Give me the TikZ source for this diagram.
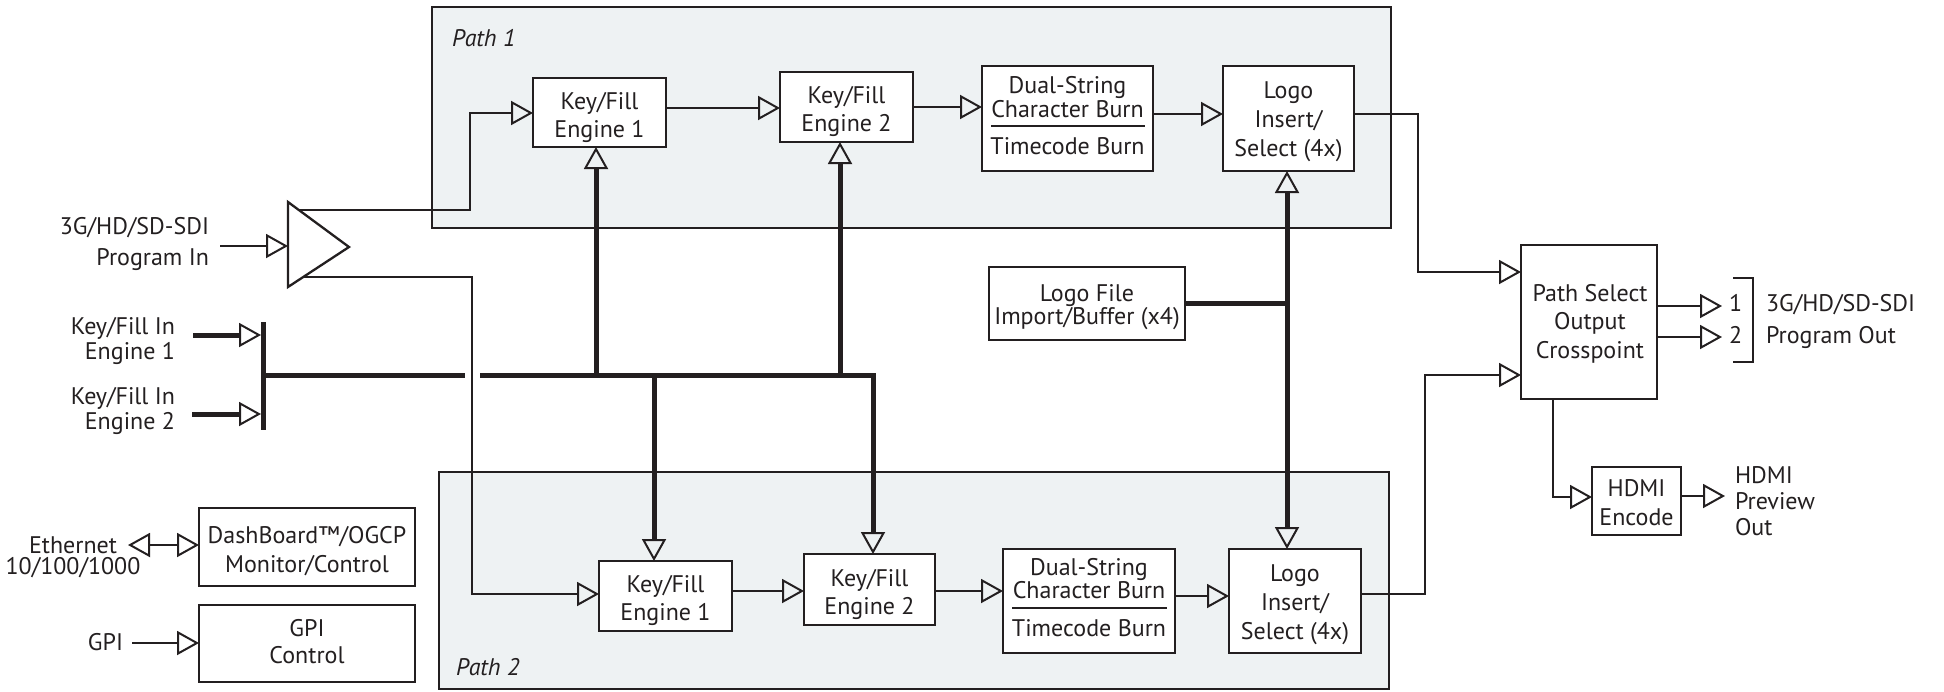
\documentclass[tikz,border=0pt]{standalone}
\usepackage{fontspec}
\setmainfont{PT Sans}
\usetikzlibrary{arrows.meta,calc}
\definecolor{ink}{RGB}{35,31,32}
\definecolor{pathbg}{RGB}{238,242,243}
\newcommand\sst{\rule[-2.5pt]{0pt}{11pt}}
\lineskiplimit=-20pt
\begin{document}
\begin{tikzpicture}[x=0.5pt,y=-0.5pt,
  box/.style 2 args={draw=ink, fill=white, line width=1.15pt, minimum width=#1*0.5pt, minimum height=#2*0.5pt, inner sep=0pt, outer sep=0pt},
  region/.style 2 args={draw=ink, fill=pathbg, line width=1pt, minimum width=#1*0.5pt, minimum height=#2*0.5pt, inner sep=0pt, outer sep=0pt},
  txt/.style={inner sep=0pt, outer sep=0pt, text=ink, align=center, font=\fontsize{12}{14}\selectfont},
  tipend/.style={-{Triangle[open,length=11pt,width=12pt,line width=1pt]}},
  conn/.style={draw=ink, line width=0.85pt, tipend},
  bus/.style={draw=ink, line width=2.5pt},
  busarr/.style={draw=ink, line width=2.5pt, tipend},
]
\useasboundingbox (0,0) rectangle (1944,691);

% regions
\node[region={959}{221}] (p1) at (911.5,117.5) {};
\node[region={950}{217}] (p2) at (914,580.5) {};

% boxes path 1
\node[box={133}{69}] (kfa) at (599.5,112.5) {};
\node[box={133}{70}] (kfb) at (846.5,107) {};
\node[box={171}{105}] (dsa) at (1067.5,118.5) {};
\node[box={131}{105}] (loa) at (1288.5,118.5) {};
% boxes path 2
\node[box={133}{70}] (kfc) at (665.5,596) {};
\node[box={131}{71}] (kfd) at (869.5,589.5) {};
\node[box={172}{104}] (dsb) at (1089,601) {};
\node[box={132}{104}] (lob) at (1295,601) {};
% other boxes
\node[box={196}{73}] (lfile) at (1087,303.5) {};
\node[box={136}{154}] (xpt) at (1589,322) {};
\node[box={89}{68}] (hdmi) at (1636.5,501) {};
\node[box={216}{78}] (dash) at (307,547) {};
\node[box={216}{77}] (gpi) at (307,643.5) {};

% buffer triangle
\coordinate (ta) at (288,202);
\coordinate (tb) at (288,287);
\coordinate (tc) at (349,247);
\draw[draw=ink, fill=white, line width=1.15pt, line join=miter] (ta) -- (tc) -- (tb) -- cycle;
\coordinate (tin) at (288,246);
\coordinate (tout1) at (300,210);
\coordinate (tout2) at (304,277);

% free ends
\coordinate (pinE) at (220,246);
\coordinate (k1s) at (193,335);
\coordinate (k2s) at (192,414);
\coordinate (k1e) at (261,335);
\coordinate (k2e) at (261,414);
\coordinate (bart) at (263.5,322);
\coordinate (barb) at (263.5,430);
\coordinate (busl) at (263.5,375);
\coordinate (busg1) at (465,375);
\coordinate (busg2) at (480,375);
\coordinate (lj) at (1287,303.5);
\coordinate (o1e) at (1722,306);
\coordinate (o2e) at (1722,337);
\coordinate (hde) at (1725,496);
\coordinate (ethE) at (128,545);
\coordinate (gpiE) at (132,643);

% thin connectors
\draw[conn] (pinE) -- (tin);
\draw[conn] (tout1) -- (470,210) -- (470,113) -- (kfa.west |- 0,113);
\draw[conn] (tout2) -- (472,277) -- (472,594) -- (kfc.west |- 0,594);
\draw[conn] (kfa.east |- 0,108) -- (kfb.west |- 0,108);
\draw[conn] (kfb.east |- 0,107) -- (dsa.west |- 0,107);
\draw[conn] (dsa.east |- 0,114) -- (loa.west |- 0,114);
\draw[conn] (loa.east |- 0,114) -- (1418,114) -- (1418,272) -- (xpt.west |- 0,272);
\draw[conn] (kfc.east |- 0,591) -- (kfd.west |- 0,591);
\draw[conn] (kfd.east |- 0,591) -- (dsb.west |- 0,591);
\draw[conn] (dsb.east |- 0,596) -- (lob.west |- 0,596);
\draw[conn] (lob.east |- 0,594) -- (1425,594) -- (1425,375) -- (xpt.west |- 0,375);
\draw[conn] (xpt.east |- o1e) -- (o1e);
\draw[conn] (xpt.east |- o2e) -- (o2e);
\draw[conn] (xpt.south -| 1553,0) -- (1553,497) -- (hdmi.west |- 0,497);
\draw[conn] (hdmi.east |- hde) -- (hde);
\draw[draw=ink, line width=0.85pt, {Triangle[open,length=11pt,width=12pt,line width=1pt]}-{Triangle[open,length=11pt,width=12pt,line width=1pt]}] (ethE) -- (dash.west |- ethE);
\draw[conn] (gpiE) -- (gpi.west |- gpiE);

% thick buses
\draw[busarr] (k1s) -- (k1e);
\draw[busarr] (k2s) -- (k2e);
\draw[bus] (bart) -- (barb);
\draw[bus] (busl) -- (busg1);
\draw[busarr, line join=miter] (busg2) -- (873,375) -- (kfd.north -| 873,0);
\draw[busarr] (596,375) -- (kfa.south -| 596,0);
\draw[busarr] (840,375) -- (kfb.south -| 840,0);
\draw[busarr] (654,375) -- (kfc.north -| 654,0);
\draw[bus] (lfile.east) -- (lj);
\draw[busarr] (lj) -- (loa.south -| lj);
\draw[busarr] (lj) -- (lob.north -| lj);

% bracket
\draw[draw=ink, line width=1pt, line join=miter] (1733,278) -- (1753,278) -- (1753,362) -- (1733,362);

% divider rules
\draw[draw=ink, line width=0.7pt] (991,126) -- (1145,126);
\draw[draw=ink, line width=0.7pt] (1012,608) -- (1167,608);

% texts
\node[txt, anchor=west, font=\fontsize{12}{14}\selectfont\itshape] (p1t) at (452,40) {\sst Path 1};
\node[txt, anchor=west, font=\fontsize{12}{14}\selectfont\itshape] (p2t) at (456,669) {\sst Path 2};
\node[txt] (kfat) at (599.5,117) {\sst Key/Fill\\\sst Engine 1};
\node[txt] (kfbt) at (846.5,111.5) {\sst Key/Fill\\\sst Engine 2};
\node[txt, font=\fontsize{12}{12}\selectfont] (dsat) at (1067.5,99) {\sst Dual-String\\\sst Character Burn};
\node[txt] (dsat2) at (1067.5,148) {\sst Timecode Burn};
\node[txt, font=\fontsize{12}{14.5}\selectfont] (loat) at (1288.5,122) {\sst Logo\\\sst Insert/\\\sst Select (4x)};
\node[txt] (kfct) at (665.5,600) {\sst Key/Fill\\\sst Engine 1};
\node[txt] (kfdt) at (869.5,594) {\sst Key/Fill\\\sst Engine 2};
\node[txt, font=\fontsize{12}{11.5}\selectfont] (dsbt) at (1089,580.5) {\sst Dual-String\\\sst Character Burn};
\node[txt] (dsbt2) at (1089,630) {\sst Timecode Burn};
\node[txt, font=\fontsize{12}{14.5}\selectfont] (lobt) at (1295,604.5) {\sst Logo\\\sst Insert/\\\sst Select (4x)};
\node[txt, font=\fontsize{12}{11.5}\selectfont] (lfilet) at (1087,307.5) {\sst Logo File\\\sst Import/Buffer (x4)};
\node[txt, font=\fontsize{12}{14.25}\selectfont] (xptt) at (1590,323.5) {\sst Path Select\\\sst Output\\\sst Crosspoint};
\node[txt, font=\fontsize{12}{14.5}\selectfont] (hdmit) at (1636.5,504.5) {\sst HDMI\\\sst Encode};
\node[txt, font=\fontsize{12}{14.5}\selectfont] (dasht) at (307,551.5) {\sst DashBoard™/OGCP\\\sst Monitor/Control};
\node[txt, font=\fontsize{12}{13.5}\selectfont] (gpit) at (307,643.5) {\sst GPI\\\sst Control};
\node[txt, anchor=east, align=right, font=\fontsize{12}{15.5}\selectfont] (pin) at (209,243.5) {\sst 3G/HD/SD-SDI\\\sst Program In};
\node[txt, anchor=east, align=right, font=\fontsize{12}{12.5}\selectfont] (kin1) at (175,340.5) {\sst Key/Fill In\\\sst Engine 1};
\node[txt, anchor=east, align=right, font=\fontsize{12}{12.5}\selectfont] (kin2) at (175,410.5) {\sst Key/Fill In\\\sst Engine 2};
\node[txt, font=\fontsize{12}{10.5}\selectfont] (eth) at (73,557.5) {\sst Ethernet\\\sst 10/100/1000};
\node[txt, anchor=east] (gpil) at (123,644) {\sst GPI};
\node[txt, anchor=west] (o1) at (1729,305) {\sst 1};
\node[txt, anchor=west] (o2) at (1729,337) {\sst 2};
\node[txt, anchor=west, align=left, font=\fontsize{12}{16}\selectfont] (pout) at (1766,321) {\sst 3G/HD/SD-SDI\\\sst Program Out};
\node[txt, anchor=west, align=left, font=\fontsize{12}{13}\selectfont] (hout) at (1735,503) {\sst HDMI\\\sst Preview\\\sst Out};
\end{tikzpicture}
\end{document}
